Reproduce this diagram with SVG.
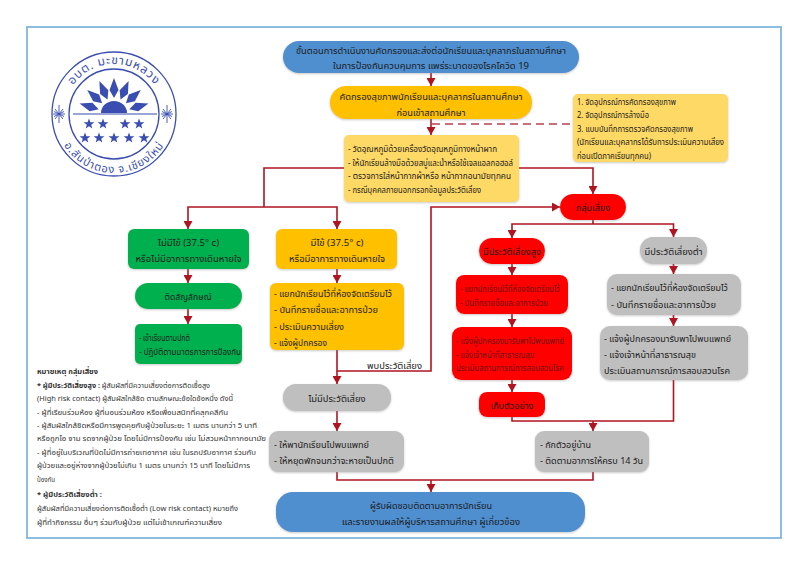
<svg xmlns="http://www.w3.org/2000/svg" width="800" height="566" viewBox="0 0 800 566">
<style>
text{font-family:"Noto Sans","Noto Sans Thai","DejaVu Sans",sans-serif;fill:#1c1c1c}
.c{text-anchor:middle}
.b{font-weight:700}
.t1{font-size:10.5px}
.t2{font-size:9.5px}
.t3{font-size:8px}
.n{font-size:7.6px;fill:#333}
.dr{fill:#6e1212}
.blue{fill:#4f8fd0}.amber{fill:#ffc000}.ly{fill:#ffd966}.green{fill:#00b050}.red{fill:#ff0000}.grey{fill:#bfbfbf}
.s{filter:url(#sh)}
.con{fill:none;stroke:#b01420;stroke-width:1.6}
.arr{marker-end:url(#ah)}
.dash{fill:none;stroke:#b8424e;stroke-width:1.5;stroke-dasharray:8 5}
.lg{fill:#3a4db0}
.ll{fill:none;stroke:#3a4db0}
</style>
<defs>
<filter id="sh" x="-10%" y="-15%" width="120%" height="130%"><feDropShadow dx="0" dy="1" stdDeviation="1" flood-color="#888" flood-opacity=".45"/></filter>
<marker id="ah" markerUnits="userSpaceOnUse" markerWidth="9" markerHeight="9" refX="8" refY="4.500" orient="auto"><path d="M0,0L8,4.500L0,9Z" fill="#b01420"/></marker>
<polygon id="star" points="0,-5.6 1.4,-1.8 5.4,-1.7 2.2,.7 3.3,4.5 0,2.3 -3.3,4.5 -2.2,.7 -5.4,-1.7 -1.4,-1.8" class="lg"/>
<path id="ray" d="M114,98L109.5,90L114,78L118.5,90Z" class="lg"/>
<path id="tarc" d="M64,114A50,50 0 0 1 164,114"/>
<path id="barc" d="M55,114A59,59 0 0 0 173,114"/>
<g id="spark" class="ll" stroke-width=".9"><path d="M0,-9V9M-6,0H6M-4,-5L4,5M4,-5L-4,5M-5,-2.5L5,2.5M5,-2.5L-5,2.5"/></g>
</defs>
<rect width="800" height="566" fill="#fff"/>
<rect id="frame" x="27" y="27" width="754" height="511" fill="none" stroke="#8dbde0" stroke-width="2"/>
<g id="logo">
<circle cx="114" cy="114" r="62" class="ll" stroke-width="1.3"/>
<circle cx="114" cy="114" r="45" class="ll" stroke-width="1.3"/>
<path d="M73,114H157" class="ll" stroke-width="1.2"/>
<path d="M101,113A13,12 0 0 1 127,113Z" class="lg"/>
<use href="#ray"/><use href="#ray" transform="rotate(-24 114 114)"/><use href="#ray" transform="rotate(24 114 114)"/><use href="#ray" transform="rotate(-48 114 114)"/><use href="#ray" transform="rotate(48 114 114)"/><use href="#ray" transform="rotate(-73 114 114)"/><use href="#ray" transform="rotate(73 114 114)"/>
<use href="#star" x="89" y="124"/><use href="#star" x="103" y="124"/><use href="#star" x="125" y="124"/><use href="#star" x="139" y="124"/>
<use href="#star" x="85" y="138"/><use href="#star" x="99" y="138"/><use href="#star" x="114" y="138"/><use href="#star" x="129" y="138"/><use href="#star" x="144" y="138"/>
<use href="#spark" x="59" y="114"/><use href="#spark" x="167" y="114"/>
<text class="c" font-size="12" letter-spacing=".8" style="fill:#3a4db0"><textPath href="#tarc" startOffset="50%">อบต. มะขามหลวง</textPath></text>
<text class="c" font-size="11" letter-spacing=".9" style="fill:#3a4db0"><textPath href="#barc" startOffset="50%">อ.สันป่าตอง จ.เชียงใหม่</textPath></text>
</g>
<g id="connectors">
<path class="con arr" d="M431,73V86"/>
<path class="con arr" d="M431,119V135"/>
<path class="dash" d="M432,124H573"/>
<path class="con" d="M344,168H264V207"/>
<path class="con arr" d="M264,207H188V229"/>
<path class="con arr" d="M264,207H337V229"/>
<path class="con arr" d="M519,168H593V194"/>
<path class="con arr" d="M188,269V283"/>
<path class="con arr" d="M188,309V324"/>
<path class="con arr" d="M337,269V283"/>
<path class="con arr" d="M337,350V384"/>
<path class="con arr" d="M337,371H431V207H560"/>
<path class="con arr" d="M337,411V431"/>
<path class="con" d="M593,220V224"/>
<path class="con arr" d="M593,224H512V238"/>
<path class="con arr" d="M593,224H673.500V237"/>
<path class="con arr" d="M512,264V275"/>
<path class="con arr" d="M673.500,264V274"/>
<path class="con arr" d="M512,314V327"/>
<path class="con arr" d="M673.500,315V326"/>
<path class="con arr" d="M512,380V392"/>
<path class="con" d="M512,417V421H673.500V380"/>
<path class="con arr" d="M593,421V431"/>
<path class="con" d="M337,472V480H593V472"/>
<path class="con arr" d="M431,480V492"/>
</g>
<g id="n-title"><rect class="blue s" x="283" y="41" width="296" height="32" rx="16"/>
<text class="c t2" x="431" y="54" textLength="270" lengthAdjust="spacingAndGlyphs">ขั้นตอนการดำเนินงานคัดกรองและส่งต่อนักเรียนและบุคลากรในสถานศึกษา</text>
<text class="c t2" x="431" y="69" textLength="196" lengthAdjust="spacingAndGlyphs">ในการป้องกันควบคุมการ แพร่ระบาดของโรคโควิด 19</text></g>
<g id="n-screen"><rect class="amber s" x="330" y="86" width="202" height="33" rx="16"/>
<text class="c t2" x="431" y="100" textLength="183" lengthAdjust="spacingAndGlyphs">คัดกรองสุขภาพนักเรียนและบุคลากรในสถานศึกษา</text>
<text class="c t2" x="431" y="116" textLength="69" lengthAdjust="spacingAndGlyphs">ก่อนเข้าสถานศึกษา</text></g>
<g id="n-measures"><rect class="ly s" x="344" y="135" width="175" height="67" rx="5"/>
<text class="t3" x="348" y="152" textLength="149" lengthAdjust="spacingAndGlyphs">- วัดอุณหภูมิด้วยเครื่องวัดอุณหภูมิทางหน้าผาก</text>
<text class="t3" x="348" y="166" textLength="165" lengthAdjust="spacingAndGlyphs">- ให้นักเรียนล้างมือด้วยสบู่และน้ำหรือใช้เจลแอลกอฮอล์</text>
<text class="t3" x="348" y="179" textLength="163" lengthAdjust="spacingAndGlyphs">- ตรวจการใส่หน้ากากผ้าหรือ หน้ากากอนามัยทุกคน</text>
<text class="t3" x="348" y="193" textLength="133" lengthAdjust="spacingAndGlyphs">- กรณีบุคคลภายนอกกรอกข้อมูลประวัติเสี่ยง</text></g>
<g id="n-equipment"><rect class="ly s" x="573" y="94" width="155" height="68" rx="5"/>
<text class="t3" x="577" y="105" textLength="99" lengthAdjust="spacingAndGlyphs">1. จัดอุปกรณ์การคัดกรองสุขภาพ</text>
<text class="t3" x="577" y="118" textLength="72" lengthAdjust="spacingAndGlyphs">2. จัดอุปกรณ์การล้างมือ</text>
<text class="t3" x="577" y="132" textLength="116" lengthAdjust="spacingAndGlyphs">3. แบบบันทึกการตรวจคัดกรองสุขภาพ</text>
<text class="t3" x="577" y="145" textLength="147" lengthAdjust="spacingAndGlyphs">(นักเรียนและบุคลากรได้รับการประเมินความเสี่ยง</text>
<text class="t3" x="577" y="159" textLength="74" lengthAdjust="spacingAndGlyphs">ก่อนเปิดภาคเรียนทุกคน)</text></g>
<g id="n-risk"><rect class="red s" x="560" y="194" width="66" height="26" rx="13"/>
<text class="c t2" x="593" y="211" textLength="34" lengthAdjust="spacingAndGlyphs">กลุ่มเสี่ยง</text></g>
<g id="n-nofever"><rect class="green s" x="128" y="229" width="121" height="40" rx="6"/>
<text class="c t2" x="188.500" y="246" textLength="61" lengthAdjust="spacingAndGlyphs">ไม่มีไข้ (37.5° c)</text>
<text class="c t2" x="188.500" y="262" textLength="106" lengthAdjust="spacingAndGlyphs">หรือไม่มีอาการทางเดินหายใจ</text></g>
<g id="n-fever"><rect class="amber s" x="276" y="229" width="121" height="40" rx="6"/>
<text class="c t2" x="337" y="246" textLength="53" lengthAdjust="spacingAndGlyphs">มีไข้ (37.5° c)</text>
<text class="c t2" x="337" y="262" textLength="96" lengthAdjust="spacingAndGlyphs">หรือมีอาการทางเดินหายใจ</text></g>
<g id="n-sticker"><rect class="green s" x="135" y="283" width="107" height="26" rx="13"/>
<text class="c t2" x="188" y="300" textLength="47" lengthAdjust="spacingAndGlyphs">ติดสัญลักษณ์</text></g>
<g id="n-normal"><rect class="green s" x="135" y="324" width="107" height="40" rx="5"/>
<text class="t3" x="139" y="341" textLength="51" lengthAdjust="spacingAndGlyphs">- เข้าเรียนตามปกติ</text>
<text class="t3" x="139" y="355" textLength="102" lengthAdjust="spacingAndGlyphs">- ปฏิบัติตามมาตรการการป้องกัน</text></g>
<g id="n-isolate"><rect class="amber s" x="270" y="283" width="134" height="67" rx="6"/>
<text class="t2" x="274" y="297" textLength="118" lengthAdjust="spacingAndGlyphs">- แยกนักเรียนไว้ที่ห้องจัดเตรียมไว้</text>
<text class="t2" x="274" y="313" textLength="104" lengthAdjust="spacingAndGlyphs">- บันทึกรายชื่อและอาการป่วย</text>
<text class="t2" x="274" y="330" textLength="70" lengthAdjust="spacingAndGlyphs">- ประเมินความเสี่ยง</text>
<text class="t2" x="274" y="346" textLength="53" lengthAdjust="spacingAndGlyphs">- แจ้งผู้ปกครอง</text></g>
<g id="n-high"><rect class="red s" x="479" y="238" width="66" height="26" rx="13"/>
<text class="c t2" x="512" y="255" textLength="58" lengthAdjust="spacingAndGlyphs">มีประวัติเสี่ยงสูง</text></g>
<g id="n-low"><rect class="grey s" x="640" y="237" width="67" height="27" rx="13"/>
<text class="c t2" x="673.500" y="255" textLength="58" lengthAdjust="spacingAndGlyphs">มีประวัติเสี่ยงต่ำ</text></g>
<g id="n-high1"><rect class="red s" x="456" y="275" width="112" height="39" rx="8"/>
<text class="t3 dr" x="460" y="292" textLength="100" lengthAdjust="spacingAndGlyphs">- แยกนักเรียนไว้ที่ห้องจัดเตรียมไว้</text>
<text class="t3 dr" x="460" y="306" textLength="88" lengthAdjust="spacingAndGlyphs">- บันทึกรายชื่อและอาการป่วย</text></g>
<g id="n-low1"><rect class="grey s" x="607" y="274" width="134" height="41" rx="10"/>
<text class="t2" x="611" y="291" textLength="117" lengthAdjust="spacingAndGlyphs">- แยกนักเรียนไว้ที่ห้องจัดเตรียมไว้</text>
<text class="t2" x="611" y="308" textLength="105" lengthAdjust="spacingAndGlyphs">- บันทึกรายชื่อและอาการป่วย</text></g>
<g id="n-high2"><rect class="red s" x="452" y="327" width="120" height="53" rx="9"/>
<text class="t3 dr" x="456" y="344" textLength="108" lengthAdjust="spacingAndGlyphs">- แจ้งผู้ปกครองมารับพาไปพบแพทย์</text>
<text class="t3 dr" x="456" y="358" textLength="78" lengthAdjust="spacingAndGlyphs">- แจ้งเจ้าหน้าที่สาธารณสุข</text>
<text class="t3 dr" x="456" y="371" textLength="108" lengthAdjust="spacingAndGlyphs">ประเมินสถานการณ์การสอบสวนโรค</text></g>
<g id="n-low2"><rect class="grey s" x="600" y="326" width="148" height="54" rx="10"/>
<text class="t2" x="604" y="342" textLength="127" lengthAdjust="spacingAndGlyphs">- แจ้งผู้ปกครองมารับพาไปพบแพทย์</text>
<text class="t2" x="604" y="358" textLength="92" lengthAdjust="spacingAndGlyphs">- แจ้งเจ้าหน้าที่สาธารณสุข</text>
<text class="t2" x="604" y="374" textLength="126" lengthAdjust="spacingAndGlyphs">ประเมินสถานการณ์การสอบสวนโรค</text></g>
<g id="n-sample"><rect class="red s" x="479" y="392" width="66" height="25" rx="8"/>
<text class="c t2" x="512" y="409" textLength="43" lengthAdjust="spacingAndGlyphs">เก็บตัวอย่าง</text></g>
<g id="n-norisk"><rect class="grey s" x="283" y="384" width="108" height="27" rx="13"/>
<text class="c t2" x="337" y="402" textLength="57" lengthAdjust="spacingAndGlyphs">ไม่มีประวัติเสี่ยง</text></g>
<g id="n-doctor"><rect class="grey s" x="269" y="431" width="135" height="41" rx="9"/>
<text class="t2" x="274" y="448" textLength="95" lengthAdjust="spacingAndGlyphs">- ให้พานักเรียนไปพบแพทย์</text>
<text class="t2" x="274" y="464" textLength="120" lengthAdjust="spacingAndGlyphs">- ให้หยุดพักจนกว่าจะหายเป็นปกติ</text></g>
<g id="n-home"><rect class="grey s" x="535" y="431" width="114" height="41" rx="9"/>
<text class="t2" x="540" y="448" textLength="51" lengthAdjust="spacingAndGlyphs">- กักตัวอยู่บ้าน</text>
<text class="t2" x="540" y="464" textLength="103" lengthAdjust="spacingAndGlyphs">- ติดตามอาการให้ครบ 14 วัน</text></g>
<g id="n-report"><rect class="blue s" x="276" y="492" width="309" height="40" rx="17"/>
<text class="c t2" x="431" y="509" textLength="122" lengthAdjust="spacingAndGlyphs">ผู้รับผิดชอบติดตามอาการนักเรียน</text>
<text class="c t2" x="431" y="525" textLength="178" lengthAdjust="spacingAndGlyphs">และรายงานผลให้ผู้บริหารสถานศึกษา ผู้เกี่ยวข้อง</text></g>
<text class="t2" x="367" y="369" textLength="55" lengthAdjust="spacingAndGlyphs">พบประวัติเสี่ยง</text>
<g id="notes">
<text class="n b" x="37" y="374" textLength="61" lengthAdjust="spacingAndGlyphs">หมายเหตุ กลุ่มเสี่ยง</text>
<text class="n" x="37" y="388" textLength="173" lengthAdjust="spacingAndGlyphs"><tspan class="b">* ผู้มีประวัติเสี่ยงสูง :</tspan> ผู้สัมผัสที่มีความเสี่ยงต่อการติดเชื้อสูง</text>
<text class="n" x="37" y="401" textLength="196" lengthAdjust="spacingAndGlyphs">(High risk contact) ผู้สัมผัสใกล้ชิด ตามลักษณะข้อใดข้อหนึ่ง ดังนี้</text>
<text class="n" x="37" y="415" textLength="191" lengthAdjust="spacingAndGlyphs">- ผู้ที่เรียนร่วมห้อง ผู้ที่นอนร่วมห้อง หรือเพื่อนสนิทที่คลุกคลีกัน</text>
<text class="n" x="37" y="428" textLength="220" lengthAdjust="spacingAndGlyphs">- ผู้สัมผัสใกล้ชิดหรือมีการพูดคุยกับผู้ป่วยในระยะ 1 เมตร นานกว่า 5 นาที</text>
<text class="n" x="37" y="441" textLength="229" lengthAdjust="spacingAndGlyphs">หรือถูกไอ จาม รดจากผู้ป่วย โดยไม่มีการป้องกัน เช่น ไม่สวมหน้ากากอนามัย</text>
<text class="n" x="37" y="455" textLength="219" lengthAdjust="spacingAndGlyphs">- ผู้ที่อยู่ในบริเวณที่ปิดไม่มีการถ่ายเทอากาศ เช่น ในรถปรับอากาศ ร่วมกับ</text>
<text class="n" x="37" y="468" textLength="213" lengthAdjust="spacingAndGlyphs">ผู้ป่วยและอยู่ห่างจากผู้ป่วยไม่เกิน 1 เมตร นานกว่า 15 นาที โดยไม่มีการ</text>
<text class="n" x="37" y="482" textLength="18" lengthAdjust="spacingAndGlyphs">ป้องกัน</text>
<text class="n b" x="37" y="497" textLength="65" lengthAdjust="spacingAndGlyphs">* ผู้มีประวัติเสี่ยงต่ำ :</text>
<text class="n" x="37" y="511" textLength="201" lengthAdjust="spacingAndGlyphs">ผู้สัมผัสที่มีความเสี่ยงต่อการติดเชื้อต่ำ (Low risk contact) หมายถึง</text>
<text class="n" x="37" y="525" textLength="185" lengthAdjust="spacingAndGlyphs">ผู้ที่ทำกิจกรรม อื่นๆ ร่วมกับผู้ป่วย แต่ไม่เข้าเกณฑ์ความเสี่ยง</text>
</g>
</svg>
